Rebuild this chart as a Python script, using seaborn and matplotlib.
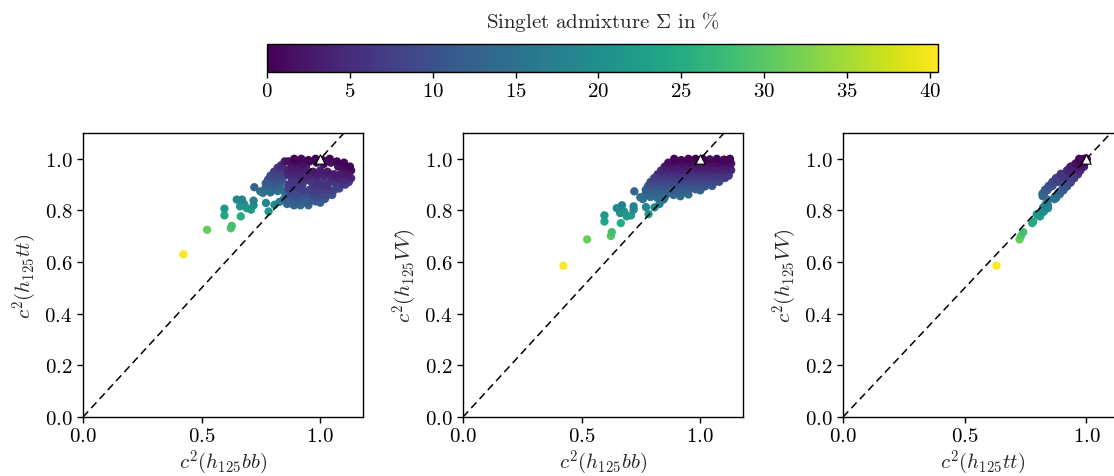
import numpy as np
import pandas as pd
import matplotlib
matplotlib.use("Agg")
import matplotlib.pyplot as plt
import seaborn as sns

# squared coupling modifiers of h125 for every scan point, plus singlet admixture in %
# (sparse tail first, then the dense blob row by row)
c2_bb = [
    0.423, 0.523, 0.623, 0.627, 0.596, 0.596, 0.665, 0.648, 0.670, 0.679, 0.690, 0.708, 0.719,
    0.719, 0.662, 0.722, 0.747, 0.758, 0.771, 0.782, 0.807, 0.828, 0.845, 0.887, 0.916,
    0.89, 0.92, 0.95, 0.98, 1.01, 1.04, 1.07, 1.10, 1.125,
    0.865, 0.895, 0.925, 0.955, 0.985, 1.015, 1.045, 1.075, 1.105, 1.13,
    0.85, 0.88, 0.91, 0.94, 0.97, 1.00, 1.03, 1.06, 1.09, 1.12,
    0.865, 0.895, 0.925, 0.955, 0.985, 1.015, 1.045, 1.075, 1.105,
    0.835, 0.865, 0.895, 0.925, 0.955, 0.985, 1.015, 1.045, 1.075, 1.105, 1.13,
    0.82, 0.85, 0.88, 0.91, 0.94, 0.97, 1.00, 1.03, 1.06, 1.09, 1.12,
    0.865, 0.895, 0.925, 0.955, 0.985, 1.015, 1.045, 1.075, 1.105,
    0.805, 0.835, 0.865, 0.895, 0.925, 0.955, 0.985, 1.015, 1.045, 1.075, 1.105,
    0.79, 0.82, 0.85, 0.88, 0.91, 0.94, 0.97, 1.00, 1.03, 1.06, 1.08,
    0.78, 0.81, 0.84, 0.87, 0.90, 0.93, 0.96, 0.99, 1.02, 1.05,
    0.77, 0.80, 0.83, 0.86, 0.89, 0.92, 0.95, 0.98, 1.00,
    0.77, 0.80, 0.83, 0.86, 0.89, 0.92, 0.95,
    0.76, 0.79, 0.82, 0.85,
]
c2_tt = [
    0.630, 0.725, 0.731, 0.740, 0.807, 0.781, 0.777, 0.842, 0.842, 0.825, 0.809, 0.803, 0.838,
    0.820, 0.816, 0.890, 0.874, 0.868, 0.829, 0.796, 0.822, 0.833, 0.842, 0.822, 0.820,
    1.0, 1.0, 0.995, 1.0, 0.995, 1.0, 0.99, 0.985, 0.97,
    0.99, 0.985, 0.98, 0.99, 0.985, 0.98, 0.985, 0.97, 0.965, 0.955,
    0.99, 0.97, 0.965, 0.97, 0.95, 0.955, 0.95, 0.94, 0.945, 0.935,
    0.955, 0.95, 0.95, 0.945, 0.94, 0.945, 0.94, 0.93, 0.94,
    0.975, 0.94, 0.935, 0.93, 0.935, 0.93, 0.935, 0.93, 0.925, 0.92, 0.925,
    0.965, 0.96, 0.92, 0.915, 0.92, 0.895, 0.90, 0.895, 0.91, 0.905, 0.91,
    0.90, 0.90, 0.90, 0.915, 0.912, 0.915, 0.912, 0.91, 0.915,
    0.95, 0.945, 0.885, 0.89, 0.88, 0.88, 0.875, 0.88, 0.875, 0.895, 0.90,
    0.935, 0.93, 0.935, 0.87, 0.865, 0.87, 0.86, 0.865, 0.86, 0.88, 0.885,
    0.92, 0.915, 0.92, 0.855, 0.85, 0.855, 0.845, 0.85, 0.845, 0.86,
    0.905, 0.90, 0.905, 0.84, 0.835, 0.84, 0.83, 0.835, 0.83,
    0.89, 0.885, 0.89, 0.825, 0.82, 0.825, 0.82,
    0.875, 0.87, 0.875, 0.87,
]
c2_vv = [
    0.586, 0.688, 0.701, 0.716, 0.781, 0.757, 0.751, 0.809, 0.820, 0.796, 0.777, 0.781, 0.816,
    0.803, 0.790, 0.874, 0.851, 0.844, 0.813, 0.786, 0.812, 0.825, 0.842, 0.860, 0.855,
    1.0, 0.995, 1.0, 1.0, 1.0, 0.998, 1.0, 0.997, 1.0,
    0.985, 0.988, 0.982, 0.986, 0.984, 0.987, 0.983, 0.985, 0.986, 0.982,
    0.97, 0.972, 0.968, 0.97, 0.971, 0.969, 0.97, 0.968, 0.972, 0.97,
    0.962, 0.963, 0.961, 0.962, 0.964, 0.960, 0.962, 0.963, 0.961,
    0.955, 0.957, 0.953, 0.955, 0.956, 0.954, 0.955, 0.957, 0.953, 0.955, 0.956,
    0.94, 0.942, 0.938, 0.94, 0.941, 0.939, 0.94, 0.942, 0.938, 0.94, 0.935,
    0.932, 0.933, 0.931, 0.932, 0.934, 0.930, 0.932, 0.933, 0.931,
    0.925, 0.927, 0.923, 0.925, 0.926, 0.924, 0.925, 0.927, 0.923, 0.925, 0.926,
    0.91, 0.912, 0.908, 0.91, 0.911, 0.909, 0.91, 0.912, 0.908, 0.91, 0.911,
    0.895, 0.897, 0.893, 0.895, 0.896, 0.894, 0.895, 0.897, 0.893, 0.895,
    0.88, 0.882, 0.878, 0.88, 0.881, 0.879, 0.88, 0.882, 0.878,
    0.865, 0.867, 0.863, 0.865, 0.866, 0.864, 0.862,
    0.85, 0.852, 0.848, 0.85,
]
sigma = [
    40.5, 31.2, 29.9, 28.4, 21.9, 24.3, 24.9, 19.1, 18.0, 20.4, 22.3, 21.9, 18.4,
    19.7, 21.0, 12.6, 14.9, 15.6, 18.7, 21.4, 18.8, 17.5, 15.8, 14.0, 14.5,
    0.2, 0.5, 0.2, 0.1, 0.3, 0.4, 0.2, 0.5, 0.3,
    1.5, 1.2, 1.8, 1.4, 1.6, 1.3, 1.7, 1.5, 1.4, 1.8,
    3.0, 2.8, 3.2, 3.0, 2.9, 3.1, 3.0, 3.2, 2.8, 3.0,
    3.8, 3.7, 3.9, 3.8, 3.6, 4.0, 3.8, 3.7, 3.9,
    4.5, 4.3, 4.7, 4.5, 4.4, 4.6, 4.5, 4.3, 4.7, 4.5, 4.4,
    6.0, 5.8, 6.2, 6.0, 5.9, 6.1, 6.0, 5.8, 6.2, 6.0, 6.5,
    6.8, 6.7, 6.9, 6.8, 6.6, 7.0, 6.8, 6.7, 6.9,
    7.5, 7.3, 7.7, 7.5, 7.4, 7.6, 7.5, 7.3, 7.7, 7.5, 7.4,
    9.0, 8.8, 9.2, 9.0, 8.9, 9.1, 9.0, 8.8, 9.2, 9.0, 8.9,
    10.5, 10.3, 10.7, 10.5, 10.4, 10.6, 10.5, 10.3, 10.7, 10.5,
    12.0, 11.8, 12.2, 12.0, 11.9, 12.1, 12.0, 11.8, 12.2,
    13.5, 13.3, 13.7, 13.5, 13.4, 13.6, 13.8,
    15.0, 14.8, 15.2, 15.0,
]

PANELS = [
    ("bb", "tt", r"$c^2(h_{125}bb)$", r"$c^2(h_{125}tt)$", 1.18),
    ("bb", "VV", r"$c^2(h_{125}bb)$", r"$c^2(h_{125}VV)$", 1.18),
    ("tt", "VV", r"$c^2(h_{125}tt)$", r"$c^2(h_{125}VV)$", 1.15),
]

df = pd.DataFrame({"bb": c2_bb, "tt": c2_tt, "VV": c2_vv, "sigma": sigma})
df = df.sort_values("sigma", ascending=False)

sns.set_theme(style="ticks")
plt.rcParams.update({
    "font.family": "serif",
    "font.serif": ["cmr10", "DejaVu Serif"],
    "mathtext.fontset": "cm",
    "axes.formatter.use_mathtext": True,
    "font.size": 15,
    "axes.labelsize": 15,
    "xtick.labelsize": 15,
    "ytick.labelsize": 15,
    "axes.edgecolor": "black",
    "axes.linewidth": 1.0,
    "xtick.color": "black",
    "ytick.color": "black",
})

W, H = 1114, 477
fig = plt.figure(figsize=(W / 100, H / 100), dpi=100)

vmax = max(sigma)
norm = plt.Normalize(0, vmax)

for i, (xc, yc, xl, yl, xmax) in enumerate(PANELS):
    left = [83, 463, 843][i]
    ax = fig.add_axes([left / W, (H - 418) / H, 280 / W, 284 / H])
    sns.scatterplot(data=df, x=xc, y=yc, hue="sigma", palette="viridis", hue_norm=norm,
                    s=36, linewidth=0, legend=False, ax=ax, zorder=2)
    ax.plot([0, 1.3], [0, 1.3], color="black", ls=(0, (5, 3)), lw=1.1, zorder=3)
    ax.scatter([1.0], [1.0], marker="^", s=45, color="white", edgecolor="black",
               linewidth=0.8, zorder=4)
    ax.set_xlim(0, xmax)
    ax.set_ylim(0, 1.1)
    ax.set_xticks([0.0, 0.5, 1.0])
    ax.set_yticks([0.0, 0.2, 0.4, 0.6, 0.8, 1.0])
    ax.set_xlabel(xl, labelpad=2)
    ax.set_ylabel(yl, labelpad=4)
    ax.tick_params(direction="out", length=4, width=1)

cax = fig.add_axes([267 / W, (H - 73) / H, 671 / W, 28 / H])
sm = plt.cm.ScalarMappable(norm=norm, cmap="viridis")
cbar = fig.colorbar(sm, cax=cax, orientation="horizontal")
cbar.set_ticks([0, 5, 10, 15, 20, 25, 30, 35, 40])
cbar.outline.set_linewidth(1.0)
cax.tick_params(length=4, width=1)
cax.set_title(r"Singlet admixture $\Sigma$ in $\%$", fontsize=15, pad=12)

fig.savefig("out.png", dpi=100)
